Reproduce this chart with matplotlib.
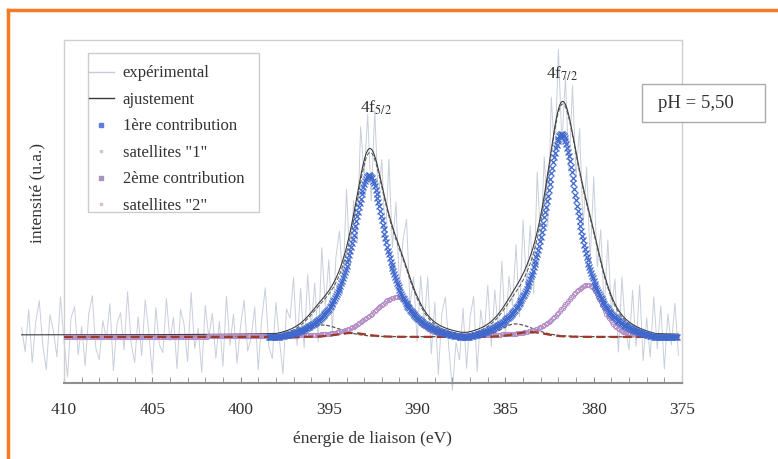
import numpy as np
import matplotlib.pyplot as plt
from matplotlib.lines import Line2D
from matplotlib.patches import Rectangle

plt.rcParams['font.family'] = ['Liberation Serif', 'DejaVu Serif']

# --- peak parameters (energy eV, height u.a., widths eV) ---
# 1st contribution: lorentzian lines cut at a small level
contrib1_pos = [392.72, 381.82]
contrib1_h = [162, 203]
contrib1_fwhm = [2.4, 2.45]
contrib1_cut = 0.05

# 2nd contribution and satellites: asymmetric pseudo-voigt (high / low energy side)
contrib2_pos = [391.07, 380.31]
contrib2_h = [40, 52]
contrib2_fwhm_hi = [3.4, 3.2]
contrib2_fwhm_lo = [2.0, 1.9]

sat1_pos = [395.4, 384.46]
sat1_h = [12, 13]
sat1_fwhm_hi = [1.8, 1.8]
sat1_fwhm_lo = [2.6, 2.6]

sat2_pos = [393.7, 383.6]
sat2_h = [4, 5]
sat2_fwhm_hi = [2.0, 2.0]
sat2_fwhm_lo = [2.0, 2.0]

fit_offset = 2

# experimental spectrum: start / step (eV) and deviation from the fit (u.a.)
exp_start = 412.4
exp_step = 0.2
exp_resid = [7, -17, 25, -28, 13, 34, -11, -35, 20, 4, -22, 38, -7, -42, 17, 28, -20, 8, -31, 21,
             39, -13, -25, 14, -4, 31, -36, 11, 22, -15, 43, -8, -28, 18, -21, 35, 3, -39, 27, -10,
             -18, 36, -6, 17, -34, 25, 10, -27, 42, -14, 6, -38, 29, -3, 21, -24, 13, -32, 38, -11,
             20, -29, 8, 34, -17, -4, 27, -36, 15, 46, -13, -25, 31, -7, -42, 22, 11, 50, -20, 35,
             -28, 42, -15, 25, -38, 52, -11, 31, -46, 21, 39, -24, 58, -34, 14, -48, 50, -17, 36, -52,
             46, -31, 25, -42, 55, -21, 35, -39, 17, 48, -27, 11, -45, 28, -14, 38, -35, 20, -50, 13,
             31, -20, -60, -11, -28, 24, -36, 15, 34, -42, 18, -8, 39, -25, 28, -17, 48, -31, 22, -13,
             42, -36, 54, -21, 31, -48, 60, -28, 39, -54, 52, -34, 60, -42, 28, -56, 48, -25, 42, -39,
             35, -46, 54, -21, 31, -36, 46, -17, 25, -42, 38, -11, -28, 34, -20, 43, -31, 13, -25, 36,
             -15, 28, -35, 20, -11, 31, -21]

xticks_major = [410, 405, 400, 395, 390, 385, 380, 375]


def lor_cut(x, pos, h, fwhm, cut):
    total = np.zeros_like(x)
    for c, a, w in zip(pos, h, fwhm):
        lor = 1 / (1 + 4 * ((x - c) / w) ** 2)
        total += a * np.clip(lor - cut, 0, None) / (1 - cut)
    return total


def gl(x, pos, h, w_hi, w_lo, eta):
    total = np.zeros_like(x)
    for c, a, wh, wl in zip(pos, h, w_hi, w_lo):
        u = (x - c) / np.where(x > c, wh, wl)
        total += a * (eta / (1 + 4 * u ** 2) + (1 - eta) * np.exp(-4 * np.log(2) * u ** 2))
    return total


def c1(x):
    return lor_cut(x, contrib1_pos, contrib1_h, contrib1_fwhm, contrib1_cut)


def c2(x):
    return gl(x, contrib2_pos, contrib2_h, contrib2_fwhm_hi, contrib2_fwhm_lo, 0.4)


def s1(x):
    return gl(x, sat1_pos, sat1_h, sat1_fwhm_hi, sat1_fwhm_lo, 0.3)


def s2(x):
    return gl(x, sat2_pos, sat2_h, sat2_fwhm_hi, sat2_fwhm_lo, 0.3)


def fit_curve(x):
    return c1(x) + c2(x) + s1(x) + s2(x) + fit_offset


fig = plt.figure(figsize=(7.78, 4.59), dpi=100)
ax = fig.add_axes([64 / 778, 76 / 459, 618 / 778, 343 / 459])

e_exp = exp_start - exp_step * np.arange(len(exp_resid))
e_fit = np.arange(412.4, 375.15, -0.05)
e_c1 = np.arange(398.4, 375.25, -0.05)
e_c2 = np.arange(410.0, 375.25, -0.08)
e_sat = np.arange(410.0, 375.25, -0.05)

experimental = fit_curve(e_exp) + np.array(exp_resid)

ax.plot(e_exp, experimental, color='#c9cedb', lw=0.7, clip_on=False, zorder=1)
ax.plot(e_fit, fit_curve(e_fit), color='#3a3a3a', lw=0.8, clip_on=False, zorder=3)
ax.plot(e_sat, c1(e_sat) + c2(e_sat) + s1(e_sat), color='#555555', lw=0.7,
        ls=(0, (4, 2)), zorder=3)
ax.plot(e_sat, s1(e_sat), color='#555555', lw=0.9, ls=(0, (3, 1.5)), zorder=4)
ax.plot(e_c2, c2(e_c2), ls='none', marker='o', ms=3, mew=0.7, mfc='none', mec='#b48fc6',
        zorder=4)
ax.plot(e_sat, s2(e_sat), color='#9e3a2c', lw=1.6, ls=(0, (4, 2)), zorder=4)
ax.plot(e_c1, c1(e_c1), ls='none', marker='x', ms=3.8, mew=0.9, color='#4068cc', zorder=5)

ax.set_xlim(410, 375)
ax.set_ylim(-46, 297)
ax.set_xticks(xticks_major)
ax.set_xticks(np.arange(410, 374, -1), minor=True)
ax.set_yticks([])
ax.tick_params(axis='x', which='both', direction='in', length=4, color='#8a8a8a',
               labelsize=12.5, pad=14, labelcolor='#333333')
for s in ['left', 'top', 'right']:
    ax.spines[s].set_color('#cfcfcf')
    ax.spines[s].set_linewidth(1)
ax.spines['bottom'].set_color('#8f8f8f')
ax.spines['bottom'].set_linewidth(1.5)

handles = [Line2D([], [], color='#c6cbd8', lw=1),
           Line2D([], [], color='#3a3a3a', lw=1),
           Line2D([], [], ls='none', marker='s', ms=2.5, color='#5f7fd6'),
           Line2D([], [], ls='none', marker='s', ms=2, color='#c8c8c8'),
           Line2D([], [], ls='none', marker='s', ms=2.5, color='#a895b8'),
           Line2D([], [], ls='none', marker='s', ms=2, color='#e0b8c8')]
labels = ['expérimental', 'ajustement', '1ère contribution', 'satellites "1"',
          '2ème contribution', 'satellites "2"']

# legend frame drawn separately so its padding matches the original
fig.add_artist(Rectangle((88 / 778, 1 - 212 / 459), 171 / 778, 159 / 459,
                         transform=fig.transFigure, fc='white', ec='#cccccc', lw=1, zorder=5))
leg = fig.legend(handles, labels, loc='upper left', bbox_to_anchor=(86 / 778, 1 - 62 / 459),
                 fontsize=12, frameon=False, handlelength=1.45, handletextpad=0.55,
                 labelspacing=0.63, borderpad=0.2, borderaxespad=0)
leg.set_zorder(6)
for t in leg.get_texts():
    t.set_color('#333333')

ax.text(392.35, 229, '4f$_{5/2}$', ha='center', va='center', fontsize=12.5, color='#333333',
        math_fontfamily='stix')
ax.text(381.8, 263, '4f$_{7/2}$', ha='center', va='center', fontsize=12.5, color='#333333',
        math_fontfamily='stix')

# pH box (partly outside the axes)
fig.add_artist(Rectangle((642 / 778, 1 - 122 / 459), 123 / 778, 38 / 459,
                         transform=fig.transFigure, fc='white', ec='#aaaaaa', lw=1))
fig.text(696 / 778, 1 - 103 / 459, 'pH = 5,50', ha='center', va='center', fontsize=13.5,
         color='#333333')

fig.text(37 / 778, 1 - 193 / 459, 'intensité (u.a.)', rotation=90, ha='center', va='center',
         fontsize=12.5, color='#333333')
fig.text(372 / 778, 1 - 439 / 459, 'énergie de liaison (eV)', ha='center', va='center',
         fontsize=12.5, color='#333333')

# orange frame (top and left edges)
fig.add_artist(Line2D([8 / 778, 1], [1 - 10 / 459, 1 - 10 / 459], transform=fig.transFigure,
                      color='#f57a22', lw=2.5))
fig.add_artist(Line2D([8 / 778, 8 / 778], [0, 1 - 10 / 459], transform=fig.transFigure,
                      color='#f57a22', lw=2.5))

fig.savefig('out.png', dpi=100)
